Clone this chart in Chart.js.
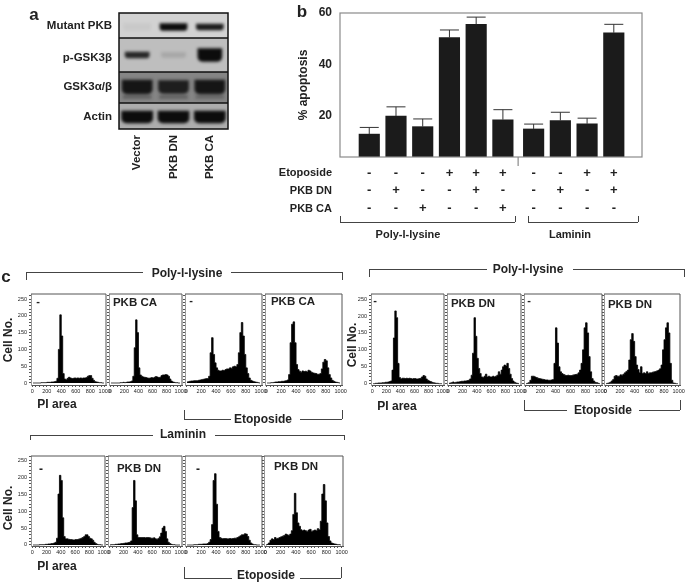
<!DOCTYPE html>
<html>
<head>
<meta charset="utf-8">
<title>PKB apoptosis figure</title>
<script src="https://cdn.jsdelivr.net/npm/chart.js@4/dist/chart.umd.min.js"></script>
<style>
  html, body { margin: 0; padding: 0; background: #fff; overflow: hidden; }
  #page { position: relative; width: 685px; height: 584px; font-family: "Liberation Sans", Arial, sans-serif; color: #222; filter: blur(0.4px); }
  #page canvas { position: absolute; }
  .txt { position: absolute; font-weight: bold; white-space: nowrap; line-height: 1; }
  .ln { position: absolute; background: #444; }
</style>
</head>
<body>
<div id="page"></div>
<script>
// panel a
var lanes = ["Vector", "PKB DN", "PKB CA"];
var blotRows = ["Mutant PKB", "p-GSK3\u03b2", "GSK3\u03b1/\u03b2", "Actin"];
var blotShades = ["#d2d2d2", "#bebebe", "#858585", "#adadad"];
var mutantPkb = [0.04, 1, 0.92];
var pGsk = [0.85, 0.12, 1];
var pGskHeight = [6, 5, 13];
var gskMain = [0.92, 0.85, 0.92];
var gskLower = [0.3, 0.3, 0.25];
var actin = [1, 1, 1];

// panel b
var etoposide = ["-", "-", "-", "+", "+", "+", "-", "-", "+", "+"];
var pkbDn = ["-", "+", "-", "-", "+", "-", "-", "+", "-", "+"];
var pkbCa = ["-", "-", "+", "-", "-", "+", "-", "-", "-", "-"];
var barSlots = [0, 1, 2, 3, 4, 5, 6.15, 7.15, 8.15, 9.15];
var apoptosis = [12.9, 19.9, 15.8, 50.4, 55.6, 18.5, 14.9, 18.2, 16.9, 52.3];
var apoptosisTop = [15.5, 23.5, 18.8, 53.4, 58.4, 22.4, 16.8, 21.4, 19.1, 55.6];

// panel c, cell counts in 20 unit PI bins, centres 10, 30 ... 990
var bins = [];
for (var b = 10; b < 1000; b += 20) bins.push(b);

var polyCtl = [0,0,0,0,0,0,1,1,1,1, 2,2,2,3,3,4,5,14,100,203, 140,28,12,10,14,17,15,13,14,15, 14,15,14,15,14,15,15,16,20,22, 22,14,8,4,3,2,1,1,0,0];
var polyCa = [0,0,0,0,0,0,0,1,1,2, 1,2,3,3,4,6,20,105,188,150, 45,24,20,18,17,16,15,14,15,16, 15,17,19,18,16,17,22,24,24,25, 24,20,12,6,3,2,1,1,0,0];
var polyEto = [3,4,5,6,6,7,7,7,8,9, 10,11,12,13,13,20,90,135,85,60, 45,38,36,36,38,37,40,42,42,45, 44,48,50,48,55,90,150,180,140,85, 45,28,15,8,6,4,3,2,1,0];
var polyCaEto = [0,0,0,1,1,2,3,3,4,4, 5,5,6,7,9,25,120,175,182,120, 55,40,35,32,36,34,35,33,38,36, 32,30,29,28,26,26,28,42,62,70, 66,45,25,15,8,5,3,2,1,0];

var poly2Ctl = [0,0,1,1,2,2,2,3,3,4, 4,5,6,8,40,135,215,195,60,18, 14,16,16,15,16,15,16,15,14,15, 15,14,14,15,16,20,24,22,14,10, 8,6,4,3,2,1,1,0,0,0];
var poly2Dn = [1,2,3,5,3,4,5,5,6,7, 7,8,8,9,10,14,25,90,195,140, 75,45,30,20,18,22,28,20,22,20, 20,22,20,22,25,35,28,40,50,55, 52,60,45,28,15,8,4,2,1,0];
var poly2Eto = [0,1,3,10,22,22,20,18,16,15, 14,13,12,11,11,10,10,11,12,60, 165,120,50,35,30,27,25,24,25,24, 24,25,26,27,28,32,40,60,100,165, 180,150,80,35,15,8,4,3,1,0];
var poly2DnEto = [0,1,2,4,8,12,22,24,22,22, 26,25,28,32,36,40,70,130,148,125, 80,55,42,32,50,30,32,30,35,30, 32,32,34,35,36,38,40,44,55,100, 130,165,180,150,60,10,2,1,0,0];

var lamCtl = [0,0,0,0,0,1,1,1,1,2, 2,3,3,4,4,6,8,20,150,205, 190,80,25,18,18,17,16,16,15,15, 16,16,17,18,20,22,25,30,30,25, 20,18,14,8,4,2,1,1,0,0];
var lamDn = [0,1,1,1,2,2,3,3,4,4, 5,6,6,7,8,12,110,190,130,30, 22,22,22,22,22,21,22,22,21,20, 20,21,18,17,19,24,35,50,55,40, 18,8,4,2,1,1,0,0,0,0];
var lamEto = [0,0,0,0,0,1,1,1,2,2, 2,3,3,3,4,8,16,60,190,210, 120,40,22,20,18,19,19,18,18,19, 18,19,20,20,22,24,27,30,30,33, 32,25,14,6,3,1,1,0,0,0];
var lamDnEto = [0,2,6,14,18,16,22,18,20,22, 24,26,28,32,30,28,32,42,90,152, 95,65,55,45,42,44,42,40,44,46, 40,42,44,42,48,45,70,150,178,130, 65,25,12,6,4,3,2,1,1,0];

Chart.defaults.font.family = '"Liberation Sans", Arial, sans-serif';
Chart.defaults.color = "#222";
Chart.defaults.animation = false;

var page = document.getElementById("page");

function addCanvas(x, y, w, h) {
  var c = document.createElement("canvas");
  c.width = w;
  c.height = h;
  c.style.left = x + "px";
  c.style.top = y + "px";
  c.style.width = w + "px";
  c.style.height = h + "px";
  page.appendChild(c);
  return c;
}

function text(str, x, y, size, opts) {
  opts = opts || {};
  var d = document.createElement("div");
  d.className = "txt";
  d.textContent = str;
  d.style.left = x + "px";
  d.style.top = y + "px";
  d.style.fontSize = size + "px";
  d.style.transform = "translate(" + (opts.right ? "-100%" : "-50%") + ",-50%)" + (opts.rot ? " rotate(-90deg)" : "");
  page.appendChild(d);
}

function line(x, y, w, h) {
  var d = document.createElement("div");
  d.className = "ln";
  d.style.left = x + "px";
  d.style.top = y + "px";
  d.style.width = w + "px";
  d.style.height = h + "px";
  page.appendChild(d);
}

// bracket with a gap for its label, legs go down (dir 1) or up (dir -1) from the bar
function bracket(x1, x2, y, leg, dir, gap1, gap2) {
  if (gap1) {
    line(x1, y, gap1 - x1, 1);
    line(gap2, y, x2 - gap2, 1);
  } else {
    line(x1, y, x2 - x1, 1);
  }
  line(x1, dir > 0 ? y : y - leg, 1, leg);
  line(x2, dir > 0 ? y : y - leg, 1, leg);
}

function fixX(h) {
  return function (s) { s.height = h; s.paddingLeft = 0; s.paddingRight = 0; };
}
function fixY(w) {
  return function (s) { s.width = w; s.paddingTop = 0; s.paddingBottom = 0; };
}

// ---- panel a ----
var blotEdges = [0, 25, 59, 90, 116];
var blotCentres = [13, 45, 74, 104];

function floating(centre, heights) {
  return lanes.map(function (l, i) {
    var h = heights[i];
    return [centre - h / 2, centre + h / 2];
  });
}
function shade(vals) {
  return vals.map(function (v) { return "rgba(12,12,12," + v + ")"; });
}

new Chart(addCanvas(40, 0, 192, 190), {
  type: "bar",
  data: {
    labels: lanes,
    datasets: [
      { data: floating(14, [7, 7, 6]), backgroundColor: shade(mutantPkb), barThickness: 27, borderRadius: 3 },
      { data: floating(42, pGskHeight), backgroundColor: shade(pGsk), barThickness: 24, borderRadius: 5 },
      { data: floating(74, [14, 13, 14]), backgroundColor: shade(gskMain), barThickness: 30, borderRadius: 5 },
      { data: floating(84, [3, 3, 3]), backgroundColor: shade(gskLower), barThickness: 28 },
      { data: floating(104, [12, 12, 12]), backgroundColor: shade(actin), barThickness: 31, borderRadius: 5 }
    ]
  },
  options: {
    responsive: false,
    layout: { padding: { top: 13, right: 4 } },
    plugins: { legend: { display: false }, tooltip: { enabled: false } },
    datasets: { bar: { grouped: false } },
    scales: {
      x: {
        afterFit: fixX(61),
        grid: { display: false, drawTicks: false },
        border: { display: false },
        ticks: { minRotation: 90, maxRotation: 90, padding: 6, font: { size: 11.5, weight: "bold" } }
      },
      y: {
        reverse: true,
        min: 0,
        max: 116,
        afterFit: fixY(79),
        afterBuildTicks: function (s) {
          s.ticks = blotCentres.map(function (v) { return { value: v }; });
        },
        grid: { display: false, drawTicks: false },
        border: { display: false },
        ticks: {
          padding: 7,
          font: { size: 11.5, weight: "bold" },
          callback: function (v, i) { return blotRows[i]; }
        }
      }
    }
  },
  plugins: [{
    id: "blot",
    beforeDatasetsDraw: function (chart) {
      var ctx = chart.ctx, a = chart.chartArea, y = chart.scales.y;
      ctx.save();
      blotShades.forEach(function (c, i) {
        var y1 = y.getPixelForValue(blotEdges[i]), y2 = y.getPixelForValue(blotEdges[i + 1]);
        ctx.fillStyle = c;
        ctx.fillRect(a.left, y1, a.right - a.left, y2 - y1);
      });
      ctx.restore();
      ctx.save();
      ctx.filter = "blur(1.6px)";
    },
    afterDatasetsDraw: function (chart) {
      var ctx = chart.ctx, a = chart.chartArea, y = chart.scales.y;
      ctx.restore();
      ctx.save();
      ctx.strokeStyle = "#111";
      ctx.lineWidth = 1.5;
      ctx.strokeRect(a.left, a.top, a.right - a.left, a.bottom - a.top);
      blotEdges.slice(1, 4).forEach(function (v) {
        ctx.beginPath();
        ctx.moveTo(a.left, y.getPixelForValue(v));
        ctx.lineTo(a.right, y.getPixelForValue(v));
        ctx.stroke();
      });
      ctx.restore();
    }
  }]
});

// ---- panel b ----
new Chart(addCanvas(296, 0, 364, 222), {
  type: "bar",
  data: {
    datasets: [{
      data: barSlots.map(function (s, i) { return { x: s, y: apoptosis[i] }; }),
      backgroundColor: "#1b1b1b",
      barThickness: 20.5
    }]
  },
  options: {
    responsive: false,
    layout: { padding: { top: 13, right: 18 } },
    plugins: { legend: { display: false }, tooltip: { enabled: false } },
    scales: {
      x: {
        type: "linear",
        min: -0.53,
        max: 9.64,
        afterFit: fixX(65),
        afterBuildTicks: function (s) {
          s.ticks = barSlots.map(function (v) { return { value: v }; });
        },
        grid: { display: false, drawTicks: false },
        border: { display: false },
        ticks: {
          padding: 7,
          maxRotation: 0,
          autoSkip: false,
          font: { size: 13, weight: "bold", lineHeight: 1.38 },
          callback: function (v, i) { return [etoposide[i], pkbDn[i], pkbCa[i]]; }
        }
      },
      y: {
        min: 4,
        max: 60,
        afterFit: fixY(44),
        grid: { display: false, drawTicks: true, tickLength: 3, tickColor: "#777" },
        border: { display: false },
        ticks: { stepSize: 20, includeBounds: false, padding: 5, font: { size: 12, weight: "bold" } },
        title: { display: true, text: "% apoptosis", padding: 0, font: { size: 12, weight: "bold" } }
      }
    }
  },
  plugins: [{
    id: "errorsAndFrame",
    afterDatasetsDraw: function (chart) {
      var ctx = chart.ctx, a = chart.chartArea, y = chart.scales.y, x = chart.scales.x;
      var bars = chart.getDatasetMeta(0).data;
      ctx.save();
      ctx.strokeStyle = "#333";
      ctx.lineWidth = 1;
      bars.forEach(function (bar, i) {
        var top = y.getPixelForValue(apoptosisTop[i]);
        ctx.beginPath();
        ctx.moveTo(bar.x, bar.y);
        ctx.lineTo(bar.x, top);
        ctx.moveTo(bar.x - 9.5, top);
        ctx.lineTo(bar.x + 9.5, top);
        ctx.stroke();
      });
      ctx.strokeStyle = "#8a8a8a";
      ctx.lineWidth = 1.2;
      ctx.strokeRect(a.left, a.top, a.right - a.left, a.bottom - a.top);
      // little divider between the two substrates
      var gapX = x.getPixelForValue(5.57);
      ctx.beginPath();
      ctx.moveTo(gapX, a.bottom);
      ctx.lineTo(gapX, a.bottom + 9);
      ctx.stroke();
      ctx.restore();
    }
  }]
});

text("Etoposide", 332, 172, 11, { right: true });
text("PKB DN", 332, 190, 11, { right: true });
text("PKB CA", 332, 208, 11, { right: true });
bracket(340, 515, 222, 6, -1);
bracket(528, 638, 222, 6, -1);
text("Poly-l-lysine", 408, 234, 11);
text("Laminin", 570, 234, 11);

text("a", 34, 14, 17);
text("b", 302, 11, 17);
text("c", 6, 276, 17);

// ---- panel c ----
var histFrame = {
  id: "histFrame",
  afterDatasetsDraw: function (chart) {
    var ctx = chart.ctx, a = chart.chartArea;
    ctx.save();
    ctx.strokeStyle = "#555";
    ctx.lineWidth = 1;
    ctx.beginPath();
    ctx.moveTo(a.left, a.top);
    ctx.lineTo(a.right, a.top);
    ctx.lineTo(a.right, a.bottom);
    ctx.stroke();
    ctx.restore();
  }
};

function histogram(values, left, right, top, bottom, yMin, yMax, showY) {
  var padL = 16, padR = 8, padT = 4, axisH = 13;
  var w = right - left, h = bottom - top;
  new Chart(addCanvas(left - padL, top - padT, w + padL + padR, h + padT + axisH), {
    type: "line",
    data: {
      labels: bins,
      datasets: [{
        data: values.map(function (v, i) { return { x: bins[i], y: v }; }),
        borderColor: "#000",
        borderWidth: 0.8,
        backgroundColor: "#000",
        fill: "origin",
        pointRadius: 0,
        stepped: "middle"
      }]
    },
    options: {
      responsive: false,
      layout: { padding: { top: padT, right: padR } },
      plugins: { legend: { display: false }, tooltip: { enabled: false } },
      scales: {
        x: {
          type: "linear",
          min: -18,
          max: 1018,
          afterFit: fixX(axisH),
          grid: { drawOnChartArea: false, tickLength: 2, tickColor: "#555" },
          border: { display: true, color: "#555" },
          ticks: {
            stepSize: 50,
            includeBounds: false,
            autoSkip: false,
            maxRotation: 0,
            padding: 1,
            font: { size: 5.5 },
            callback: function (v) { return v % 200 === 0 ? String(v) : ""; }
          }
        },
        y: {
          min: yMin,
          max: yMax,
          afterFit: fixY(padL),
          grid: { drawOnChartArea: false, tickLength: 2, tickColor: "#555" },
          border: { display: true, color: "#999", dash: [1, 2] },
          ticks: {
            stepSize: 10,
            includeBounds: false,
            autoSkip: false,
            padding: 2,
            font: { size: 5.5 },
            callback: function (v) { return showY && v % 50 === 0 ? String(v) : ""; }
          }
        }
      }
    },
    plugins: [histFrame]
  });
}

histogram(polyCtl, 31, 106, 294, 385, -6, 265, true);
histogram(polyCa, 109, 182, 294, 385, -6, 265, false);
histogram(polyEto, 185, 262, 294, 385, -6, 265, false);
histogram(polyCaEto, 265, 342, 294, 385, -6, 265, false);

histogram(poly2Ctl, 371, 444, 294, 385, -4, 265, true);
histogram(poly2Dn, 447, 521, 294, 385, -4, 265, false);
histogram(poly2Eto, 524, 602, 294, 385, -4, 265, false);
histogram(poly2DnEto, 604, 680, 294, 385, -4, 265, false);

histogram(lamCtl, 31, 105, 456, 546, -3, 262, true);
histogram(lamDn, 108, 182, 456, 546, -3, 262, false);
histogram(lamEto, 185, 262, 456, 546, -3, 262, false);
histogram(lamDnEto, 264, 343, 456, 546, -3, 262, false);

bracket(26, 342, 272, 8, 1, 143, 231);
text("Poly-l-lysine", 187, 273, 12);
bracket(369, 684, 269, 8, 1, 487, 573);
text("Poly-l-lysine", 528, 269, 12);
bracket(30, 344, 435, 5, 1, 153, 215);
text("Laminin", 183, 434, 12);

bracket(184, 342, 419, 9, -1, 231, 300);
text("Etoposide", 263, 419, 12);
bracket(524, 680, 410, 10, -1, 567, 639);
text("Etoposide", 603, 410, 12);
bracket(184, 341, 578, 11, -1, 232, 300);
text("Etoposide", 266, 575, 12);

text("Cell No.", 8, 340, 12, { rot: true });
text("Cell No.", 352, 345, 12, { rot: true });
text("Cell No.", 8, 508, 12, { rot: true });
text("PI area", 57, 404, 12);
text("PI area", 397, 406, 12);
text("PI area", 57, 566, 12);

text("-", 38, 301, 11);
text("PKB CA", 135, 303, 11.5);
text("-", 191, 300, 11);
text("PKB CA", 293, 302, 11.5);
text("-", 375, 300, 11);
text("PKB DN", 473, 304, 11.5);
text("-", 529, 300, 11);
text("PKB DN", 630, 305, 11.5);
text("-", 41, 469, 12);
text("PKB DN", 139, 469, 11.5);
text("-", 198, 469, 12);
text("PKB DN", 296, 467, 11.5);
</script>
</body>
</html>
